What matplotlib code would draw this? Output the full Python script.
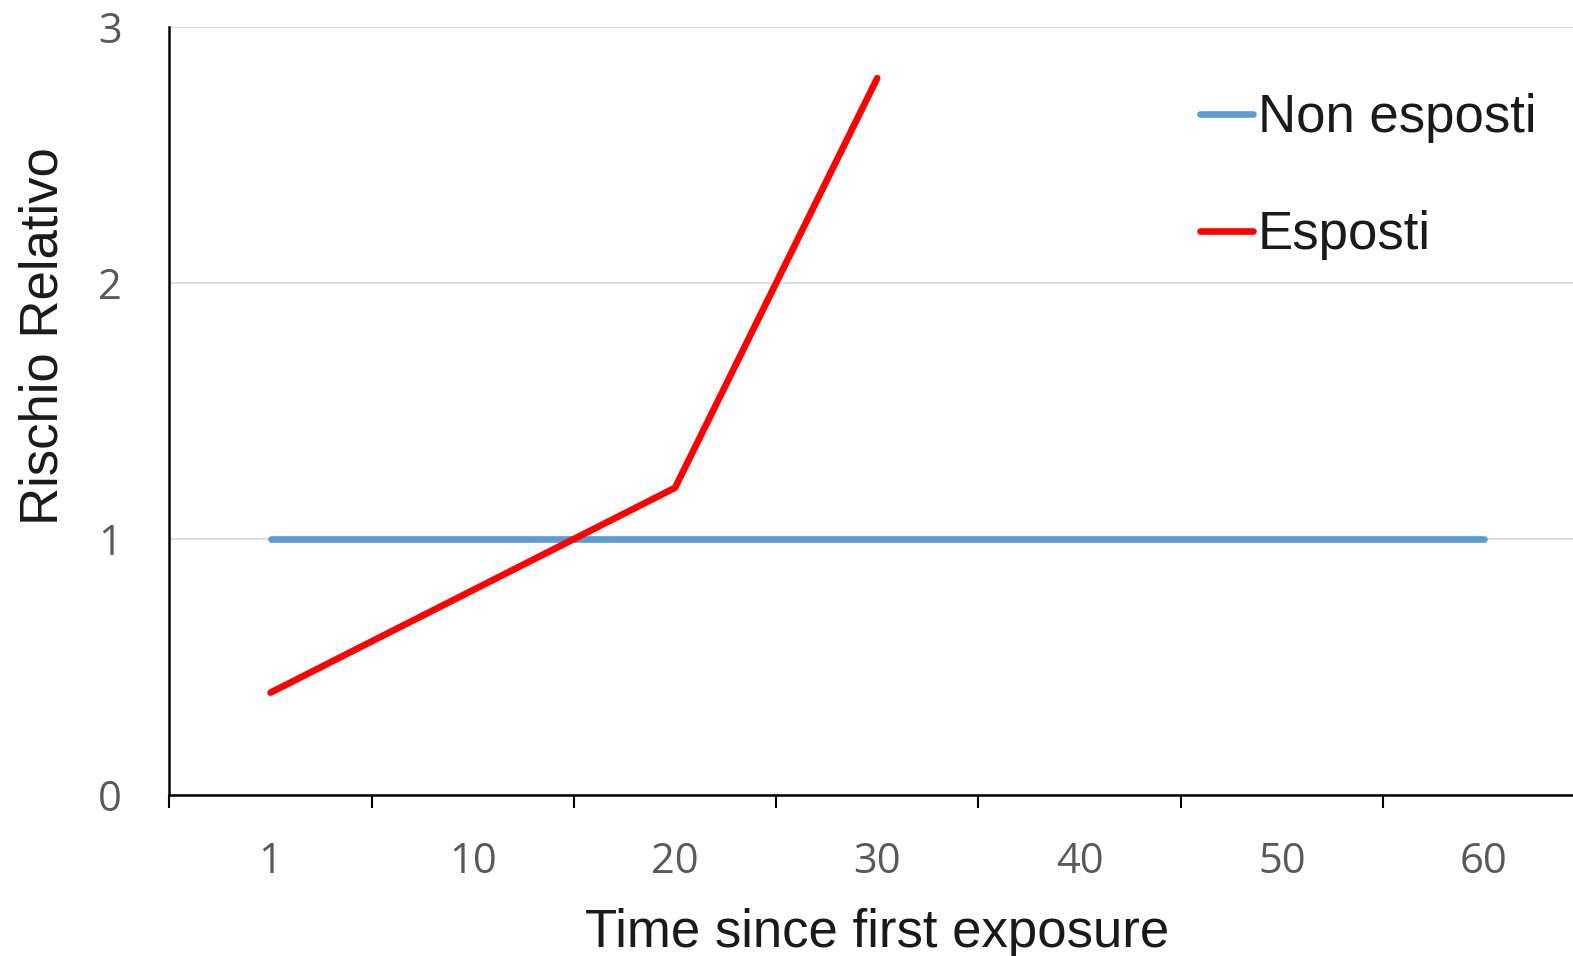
import numpy as np
from matplotlib import pyplot as plt

# data
categories = ["1", "10", "20", "30", "40", "50", "60"]
non_esposti = [1, 1, 1, 1, 1, 1, 1]
esposti = [0.4, 0.8, 1.2, 2.8]

blue = '#5B9BD5'
red = '#FF0000'
tick_gray = '#595959'

fig = plt.figure(figsize=(15.73, 9.56), dpi=100)
ax = fig.add_axes([0.1077, 0.1684, 0.9, 0.8034])

x = np.arange(len(categories))
ax.plot(x, non_esposti, color=blue, lw=4.8, solid_capstyle='round', label='Non esposti', zorder=3)
ax.plot(x[:len(esposti)], esposti, color=red, lw=4.8, solid_capstyle='round', label='Esposti', zorder=4)

ax.set_xlim(-0.5, len(categories) - 0.5)
ax.set_ylim(0, 3)
ax.set_yticks([0, 1, 2, 3])
ax.grid(True, axis='y', color='#D9D9D9', lw=1.2)
ax.set_axisbelow(True)

ax.set_xticks(x)
ax.set_xticklabels(categories)
ax.set_xticks(np.arange(len(categories) + 1) - 0.5, minor=True)
ax.tick_params(axis='x', which='major', length=0, pad=33, labelsize=30, labelcolor=tick_gray)
ax.tick_params(axis='x', which='minor', length=9, width=1.5, color='black', direction='out')
ax.tick_params(axis='y', length=0, pad=34, labelsize=30, labelcolor=tick_gray)
for lab in ax.get_xticklabels() + ax.get_yticklabels():
    lab.set_fontfamily('Open Sans')

for s in ['top', 'right']:
    ax.spines[s].set_visible(False)
ax.spines['left'].set_linewidth(1.8)
ax.spines['bottom'].set_linewidth(1.8)

ax.set_xlabel('Time since first exposure', fontsize=38, family='Liberation Sans', color='#1a1a1a', labelpad=18)
ax.set_ylabel('Rischio Relativo', fontsize=38, family='Liberation Sans', color='#1a1a1a')
ax.yaxis.set_label_coords(-0.0713, 0.598)

leg = ax.legend(loc='upper left', bbox_to_anchor=(0.746, 0.93), bbox_transform=fig.transFigure,
                frameon=False, handlelength=1.0, handletextpad=0.1,
                labelspacing=1.27, borderpad=0, prop={'family': 'Liberation Sans', 'size': 38})
for t in leg.get_texts():
    t.set_color('#1a1a1a')

plt.savefig('out.png', dpi=100)
